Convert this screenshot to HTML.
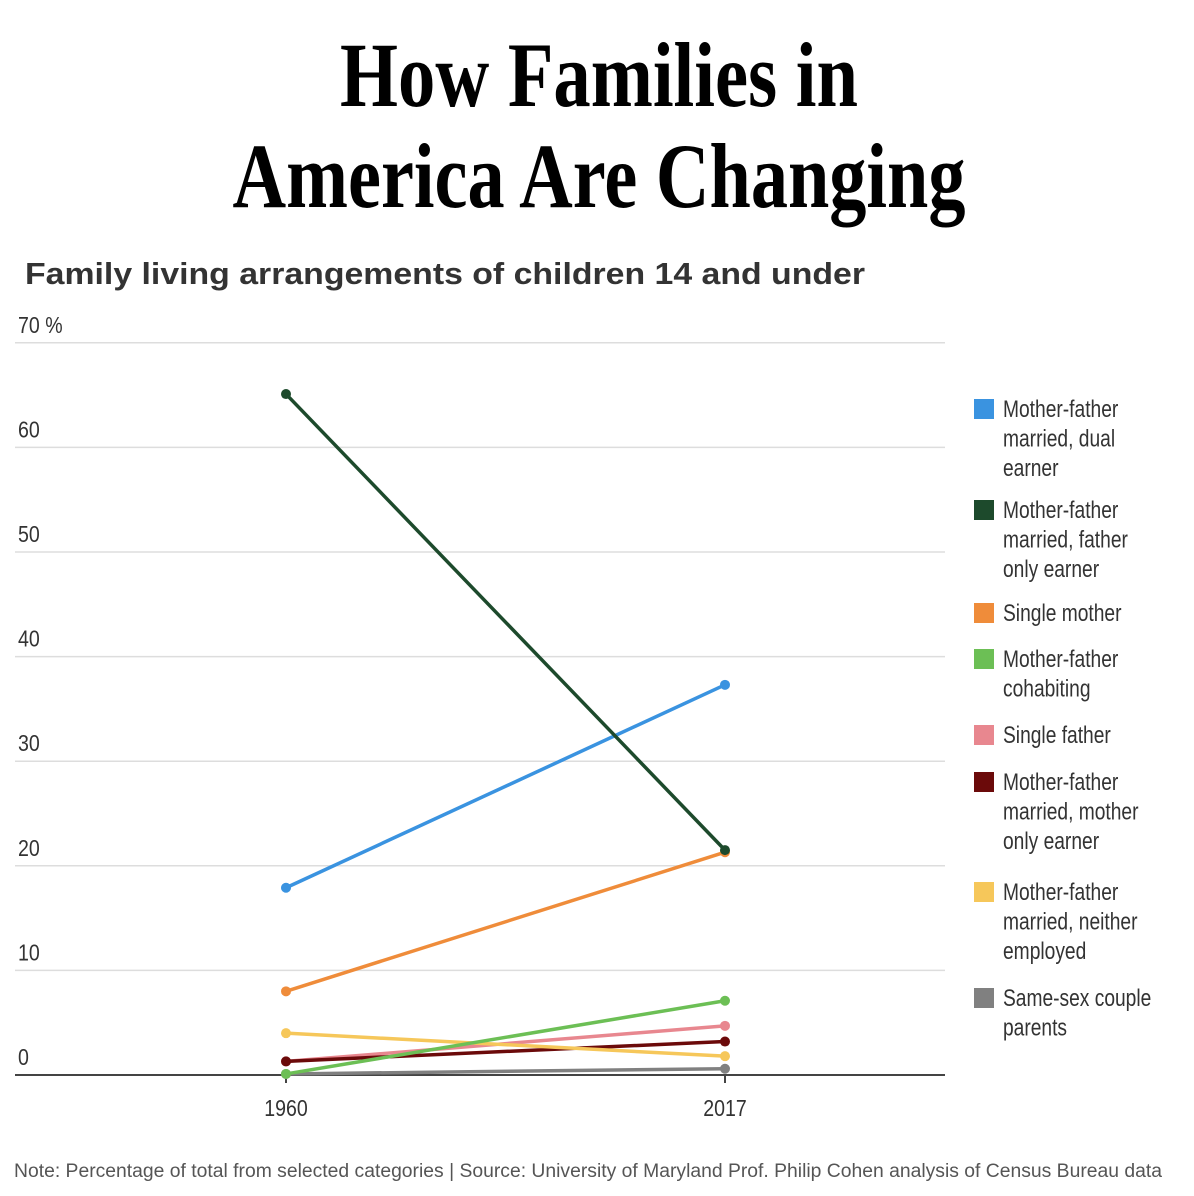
<!DOCTYPE html>
<html><head><meta charset="utf-8"><style>
body{margin:0;background:#fff}
svg{display:block;font-family:"Liberation Sans",sans-serif}
</style></head><body>
<svg id="chart" width="1194" height="1196" viewBox="0 0 1194 1196">
<text x="599" y="106" text-anchor="middle" font-family="Liberation Serif" font-weight="bold" font-size="92" textLength="518" lengthAdjust="spacingAndGlyphs">How Families in</text>
<text x="599" y="207" text-anchor="middle" font-family="Liberation Serif" font-weight="bold" font-size="92" textLength="733" lengthAdjust="spacingAndGlyphs">America Are Changing</text>
<text x="25" y="284" font-weight="bold" font-size="31" fill="#333" textLength="840" lengthAdjust="spacingAndGlyphs">Family living arrangements of children 14 and under</text>
<g id="grid"></g><g id="lines"></g><g id="legend"></g>
<text x="14" y="1177" font-size="19" fill="#555" textLength="1148" lengthAdjust="spacingAndGlyphs">Note: Percentage of total from selected categories | Source: University of Maryland Prof. Philip Cohen analysis of Census Bureau data</text>
</svg>
<script>
const years=["1960","2017"];
const seriesNames=["Mother-father married, dual earner","Mother-father married, father only earner","Single mother","Mother-father cohabiting","Single father","Mother-father married, mother only earner","Mother-father married, neither employed","Same-sex couple parents"];
const legendLines=[["Mother-father","married, dual","earner"],["Mother-father","married, father","only earner"],["Single mother"],["Mother-father","cohabiting"],["Single father"],["Mother-father","married, mother","only earner"],["Mother-father","married, neither","employed"],["Same-sex couple","parents"]];
const colors=["#3a93e0","#1d4a2c","#ef8c3a","#6cbf55","#e8878f","#6b0a0a","#f6c75a","#808080"];
const v1960=[17.9,65.1,8.0,0.1,1.3,1.3,4.0,0.1];
const v2017=[37.3,21.5,21.3,7.1,4.7,3.2,1.8,0.6];
const yTicks=[0,10,20,30,40,50,60,70];
const NS="http://www.w3.org/2000/svg";
const y=v=>1075-v*10.46;
const x=i=>i===0?286:725;
function mk(t,a,p){const e=document.createElementNS(NS,t);for(const k in a)e.setAttribute(k,a[k]);p.appendChild(e);return e;}
function squeeze(el,f){const w=el.getComputedTextLength();el.setAttribute('textLength',(w*f).toFixed(1));el.setAttribute('lengthAdjust','spacingAndGlyphs');}
const grid=document.getElementById('grid');
yTicks.forEach(t=>{
  const l=mk('line',{x1:15,x2:945,y1:y(t),y2:y(t),stroke:t===0?'#444':'#ddd','stroke-width':t===0?2:1.5},grid);
  
  
  const tx=mk('text',{x:18,y:y(t)-10,'font-size':23,fill:'#333'},grid);
  tx.textContent=t===70?'70 %':String(t);
  
  
  squeeze(tx,0.85);
});
years.forEach((yr,i)=>{
  const tk=mk('line',{x1:x(i),x2:x(i),y1:1075,y2:1083,stroke:'#444','stroke-width':2},grid);
  
  
  const t=mk('text',{x:x(i),y:1116,'text-anchor':'middle','font-size':23,fill:'#333'},grid);
  t.textContent=yr;
  
  
  squeeze(t,0.85);
});
const lines=document.getElementById('lines');
const order=[7,4,5,6,3,2,0,1];
order.forEach(s=>{
  const g=mk('g',{},lines);
  
  
  const l=mk('line',{x1:x(0),y1:y(v1960[s]),x2:x(1),y2:y(v2017[s]),stroke:colors[s],'stroke-width':3.5},g);
  
  
  [v1960[s],v2017[s]].forEach((v,i)=>{
    const c=mk('circle',{cx:x(i),cy:y(v),r:5,fill:colors[s]},g);
    
    
  });
});
const legend=document.getElementById('legend');
const ly=[395,496,599,645,721,768,878,984];
seriesNames.forEach((n,i)=>{
  const g=mk('g',{},legend);
  
  
  mk('rect',{x:974,y:ly[i]+4,width:20,height:20,fill:colors[i]},g);
  legendLines[i].forEach((t,j)=>{
    const tx=mk('text',{x:1003,y:ly[i]+22+j*29.5,'font-size':24,fill:'#333'},g);
    tx.textContent=t;
    squeeze(tx,0.8);
  });
});
</script>
</body></html>
